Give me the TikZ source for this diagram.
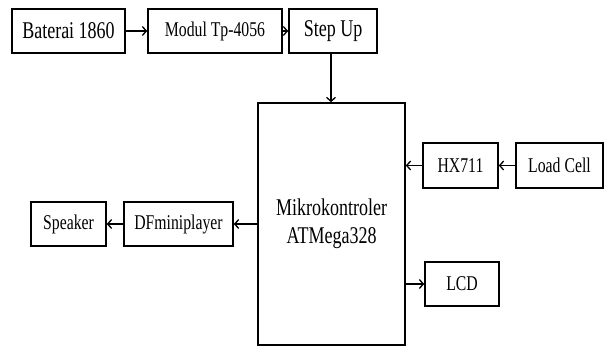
\documentclass[tikz,border=0pt]{standalone}
\usepackage{fontspec}
\setmainfont{Liberation Serif}
\usetikzlibrary{arrows.meta}
\newcommand{\cnd}[1]{\scalebox{0.75}[1]{#1}}
\begin{document}
\begin{tikzpicture}[x=1pt,y=-1pt,
  box/.style={draw,line width=1.6pt,inner sep=0pt,minimum height=44pt,align=center,font=\fontsize{21}{24}\selectfont},
  bigbox/.style={box,font=\fontsize{24}{28}\selectfont},
  arr/.style={line width=1.3pt,-{Straight Barb[length=4pt,width=9pt,line width=1.3pt]}}]
\useasboundingbox (0,0) rectangle (605,347);
\node[bigbox,minimum width=113pt] (bat) at (68.5,31) {\cnd{Baterai 1860}};
\node[box,minimum width=134pt] (modul) at (215,31) {\cnd{Modul Tp-4056}};
\node[bigbox,minimum width=88pt] (step) at (333,31) {\cnd{Step Up}};
\node[bigbox,minimum width=147pt,minimum height=242pt] (mcu) at (331.5,224) {\cnd{Mikrokontroler}\\\cnd{ATMega328}};
\node[box,minimum width=75pt,minimum height=45pt] (hx) at (460.5,165.5) {\cnd{HX711}};
\node[box,minimum width=87pt,minimum height=45pt] (load) at (559.5,165.5) {\cnd{Load Cell}};
\node[box,minimum width=74pt] (lcd) at (462,284) {\cnd{LCD}};
\node[box,minimum width=75pt] (spk) at (68.5,224) {\cnd{Speaker}};
\node[box,minimum width=109pt] (df) at (178.5,224) {\cnd{DFminiplayer}};
\draw[arr] (bat) -- (modul);
\draw[arr] (modul) -- (step);
\draw[arr] ([xshift=-2pt]step.south) -- ([xshift=-2pt]step.south |- mcu.north);
\draw[arr] (load) -- (hx);
\draw[arr] (hx.west) -- (hx.west -| mcu.east);
\draw[arr] (lcd.west -| mcu.east) -- (lcd.west);
\draw[arr] (mcu.west |- df.east) -- (df.east);
\draw[arr] (df) -- (spk);
\end{tikzpicture}
\end{document}
